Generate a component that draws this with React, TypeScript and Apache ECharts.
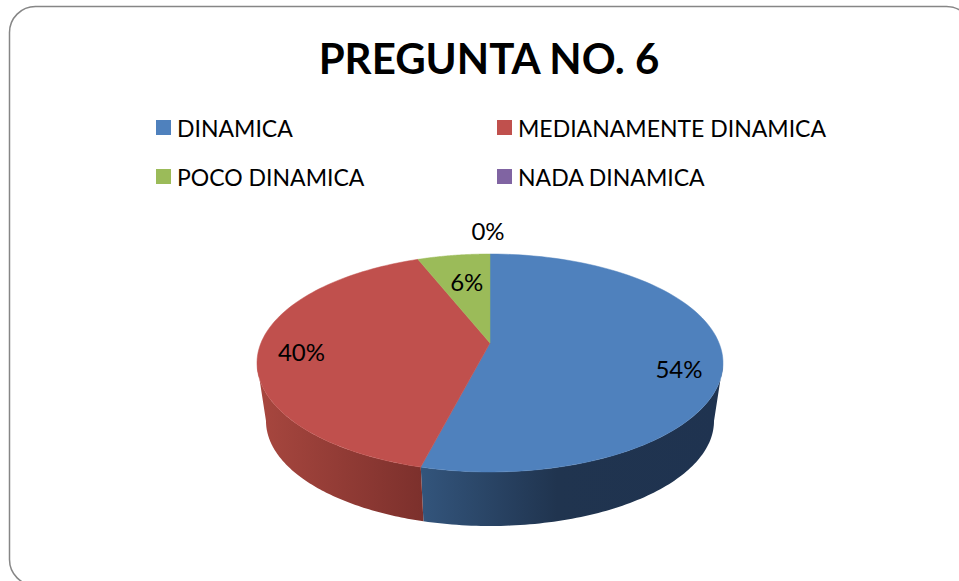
import React, { useEffect, useRef } from "react";
import * as echarts from "echarts";

const categories = ["DINAMICA", "MEDIANAMENTE DINAMICA", "POCO DINAMICA", "NADA DINAMICA"];
const shares = [54, 40, 6, 0];
const topColors = ["#4f81bd", "#c0504d", "#9bbb59", "#8064a2"];
const sideStops = [
  [[0, "#33557c"], [0.45, "#20344f"], [1, "#1f3350"]],
  [[0, "#a8473f"], [1, "#7c302c"]],
  [[0, "#5f7336"], [1, "#5f7336"]],
  [[0, "#4e3d63"], [1, "#4e3d63"]],
];
const legendLeft = [156, 497, 156, 497];
const legendTop = [121, 121, 170, 170];
// label position: radial factor, then pixel nudge
const labelRadius = [0.82, 0.8, 0.6, 1.12];
const labelNudge = [[-1, 14], [-4, 3], [0, -6], [-2, -15]];

const TOP = { cx: 490, cy: 363, rx: 233, ry: 109 };
const BOTTOM = { cx: 490, cy: 421, rx: 224, ry: 105 };
const TILT = 0.183; // perspective shift of the pie's centre on the ellipse

const project = (theta: number, r = 1) => {
  const u = r * Math.sin(theta);
  const w = r * Math.cos(theta);
  const d = 1 + TILT * w;
  return { u: (u * Math.sqrt(1 - TILT * TILT)) / d, w: (w + TILT) / d };
};
const onEllipse = (e: typeof TOP, theta: number, r = 1) => {
  const p = project(theta, r);
  return [e.cx + e.rx * p.u, e.cy - e.ry * p.w];
};
const sweep = (a: number, b: number, n = 90) =>
  Array.from({ length: n + 1 }, (_, i) => a + ((b - a) * i) / n);

const total = shares.reduce((s, v) => s + v, 0);

function makeRenderItem(index: number) {
  return (_params: any, api: any) => {
    const before = shares.slice(0, index).reduce((s, v) => s + v, 0);
    const a = (before / total) * Math.PI * 2;
    const b = ((before + api.value(0)) / total) * Math.PI * 2;
    const children: any[] = [];
    if (b > a) {
      const horizon = Math.acos(-TILT);
      const s0 = Math.max(a, horizon);
      const s1 = Math.min(b, Math.PI * 2 - horizon);
      if (s1 > s0) {
        const angles = sweep(s0, s1);
        const points = [
          ...angles.map((t) => onEllipse(TOP, t)),
          ...angles.slice().reverse().map((t) => onEllipse(BOTTOM, t)),
        ];
        const stops = sideStops[index].map(([offset, color]) => ({ offset, color }));
        children.push({
          type: "polygon",
          shape: { points },
          style: { fill: new echarts.graphic.LinearGradient(0, 0, 1, 0, stops) },
        });
      }
      const apex = [TOP.cx, TOP.cy - TOP.ry * TILT];
      children.push({
        type: "polygon",
        shape: { points: [apex, ...sweep(a, b).map((t) => onEllipse(TOP, t))] },
        style: { fill: topColors[index], stroke: topColors[index], lineWidth: 0.5 },
      });
    }
    const mid = (a + b) / 2;
    const at = onEllipse(TOP, mid, labelRadius[index]);
    children.push({
      type: "text",
      x: at[0] + labelNudge[index][0],
      y: at[1] + labelNudge[index][1],
      style: {
        text: `${api.value(0)}%`,
        fill: "#000",
        font: "24px Lato, sans-serif",
        align: "center",
        verticalAlign: "middle",
      },
    });
    return { type: "group", children };
  };
}

export default function App() {
  const ref = useRef<HTMLDivElement>(null);
  useEffect(() => {
    const chart = echarts.init(ref.current!, null, { renderer: "svg" });
    chart.setOption({
      animation: false,
      backgroundColor: "#fff",
      title: {
        text: "PREGUNTA NO. 6",
        left: 484,
        top: 32,
        textAlign: "center",
        textStyle: { fontFamily: "Lato", fontWeight: "bold", fontSize: 42, color: "#000" },
      },
      legend: categories.map((name, i) => ({
        data: [name],
        left: legendLeft[i],
        top: legendTop[i] - 5,
        padding: 0,
        icon: "rect",
        itemWidth: 15,
        itemHeight: 15,
        itemGap: 0,
        selectedMode: false,
        textStyle: { fontFamily: "Lato", fontSize: 23, color: "#000", padding: [0, 0, 0, 1] },
      })),
      graphic: [
        {
          type: "rect",
          z: -1,
          shape: { x: 9.5, y: 6.5, width: 963, height: 579, r: 26 },
          style: { fill: "none", stroke: "#868686", lineWidth: 1.5 },
        },
      ],
      series: categories.map((name, i) => ({
        type: "custom",
        name,
        coordinateSystem: "none",
        itemStyle: { color: topColors[i] },
        data: [[shares[i]]],
        renderItem: makeRenderItem(i),
      })),
    });
    return () => chart.dispose();
  }, []);
  return (
    <div
      ref={ref}
      style={{ position: "fixed", left: 0, top: 0, width: 959, height: 581 }}
    />
  );
}
